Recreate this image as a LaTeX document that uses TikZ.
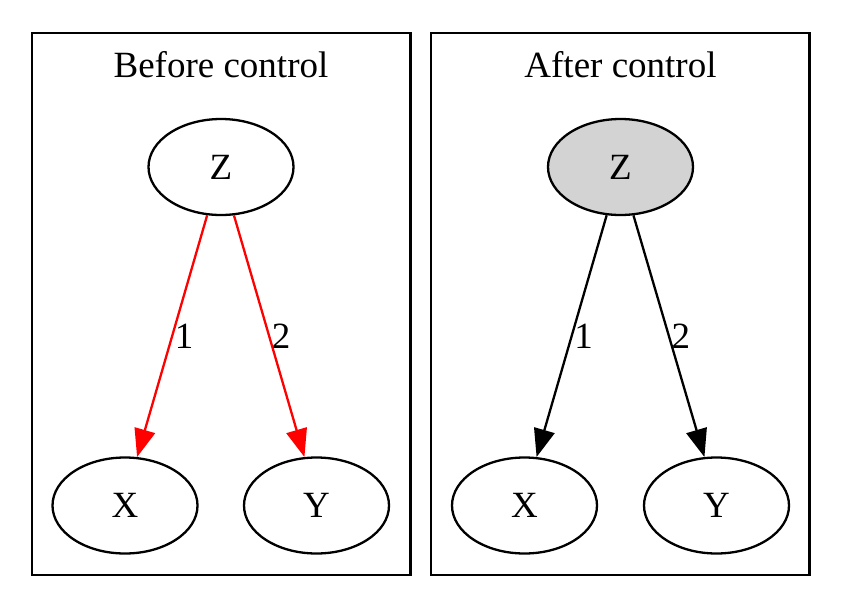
\documentclass[tikz,border=0pt]{standalone}
\usepackage{fontspec}
\setmainfont{Liberation Serif}
\usetikzlibrary{shapes.geometric,arrows.meta,positioning}
\definecolor{lgray}{HTML}{D3D3D3}
\tikzset{
  var/.style={ellipse, draw, line width=2.3pt, minimum width=145pt, minimum height=96pt,
              inner sep=0pt, font=\fontsize{37}{44}\selectfont},
  obs/.style={var, fill=lgray},
  clus/.style={draw, line width=2.3pt},
  ttl/.style={font=\fontsize{37}{44}\selectfont, inner sep=0pt},
  lbl/.style={pos=0.5, anchor=west, inner sep=1.5pt, font=\fontsize{37}{44}\selectfont},
  arr/.style={-{Triangle[length=28pt, width=21pt]}, line width=2.3pt}
}
\begin{document}
\begin{tikzpicture}[x=1pt, y=-1pt]
  \useasboundingbox (0,0) rectangle (842,608);
  % before control
  \draw[clus] (32,33) rectangle (410.5,575);
  \node[ttl] (tb) at (221,64.5) {Before control};
  \node[var] (zb) at (221,167) {Z};
  \node[var] (xb) at (125,505.5) {X};
  \node[var] (yb) at (316.5,505.5) {Y};
  \draw[arr, red] (zb.-106) -- node[lbl, text=black] {1} (xb.76);
  \draw[arr, red] (zb.-75) -- node[lbl, text=black] {2} (yb.104);
  % after control
  \draw[clus] (431,33) rectangle (809.5,575);
  \node[ttl] (ta) at (620.5,64.5) {After control};
  \node[obs] (za) at (620.5,167) {Z};
  \node[var] (xa) at (524.5,505.5) {X};
  \node[var] (ya) at (716.5,505.5) {Y};
  \draw[arr] (za.-106) -- node[lbl] {1} (xa.76);
  \draw[arr] (za.-75) -- node[lbl] {2} (ya.104);
\end{tikzpicture}
\end{document}
